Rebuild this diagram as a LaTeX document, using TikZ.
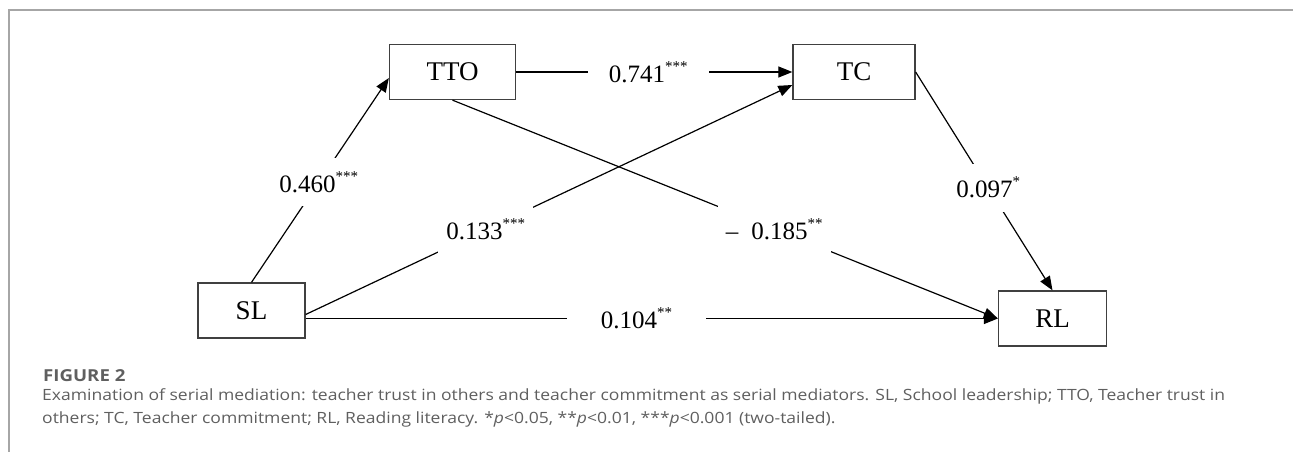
\documentclass[tikz,border=0pt]{standalone}
\usepackage{fontspec}
\setmainfont{Liberation Serif}
\newfontfamily\capfont[FakeStretch=1.13]{Open Sans}
\usetikzlibrary{arrows.meta}

\definecolor{framegray}{HTML}{A6A6A6}
\definecolor{capgray}{HTML}{5F5F5F}

% significance stars
\newcommand{\sig}[1]{\raisebox{11pt}{\fontsize{15}{15}\selectfont #1}}

\tikzset{
  construct/.style={draw=black!75, line width=1.3pt, fill=white,
    minimum height=55pt, minimum width=#1, inner sep=0pt,
    font=\fontsize{27}{32}\selectfont},
  coef/.style={fill=white, inner xsep=8pt, minimum height=48pt,
    font=\fontsize{25}{30}\selectfont},
  effect/.style={line width=1.2pt, -{Triangle[length=14pt, width=11pt]}}
}

\begin{document}
\begin{tikzpicture}[x=1pt, y=-1pt]
\useasboundingbox (0,0) rectangle (1293,452);

% Frame of the figure panel
\draw[framegray, line width=1.5pt] (1293,10) -- (9,10) -- (9,452);

% Constructs
\node[construct=107pt] (SL)  at (251.5,310.5) {SL};
\node[construct=126pt] (TTO) at (452.5,72)    {TTO};
\node[construct=122pt] (TC)  at (854,72)      {TC};
\node[construct=108pt] (RL)  at (1052.5,318.5) {RL};

% Paths with coefficients
\draw[effect] (SL.north) -- node[coef, pos=0.49] {0.460\sig{***}} ([yshift=-6pt]TTO.west);
\draw[effect] (TTO.east) -- node[coef, pos=0.478, inner xsep=21pt] {0.741\sig{***}} (TC.west);
\draw[effect] ([yshift=-4pt]SL.east) -- node[coef, pos=0.37] {0.133\sig{***}} ([yshift=-13pt]TC.west);
\draw[effect] (TTO.south) -- node[coef, pos=0.59] {\textendash\hspace{13pt}0.185\sig{**}} (RL.west);
\draw[effect] (TC.east) -- node[coef, pos=0.53] {0.097\sig{*}} (RL.north);
\draw[effect] (SL.east |- RL.west) -- node[coef, pos=0.478, inner xsep=34pt] {0.104\sig{**}} (RL.west);

% Caption
\node[anchor=base west, text=capgray, inner sep=0pt, font=\capfont\bfseries\fontsize{16.5}{19}\selectfont]
  (figno) at (43,381) {FIGURE 2};
\node[anchor=base west, text=capgray, font=\capfont\fontsize{15.5}{18}\selectfont, inner sep=0pt]
  (cap1) at (42,400) {Examination of serial mediation: teacher trust in others and teacher commitment as serial mediators. SL, School leadership; TTO, Teacher trust in};
\node[anchor=base west, text=capgray, font=\capfont\fontsize{15.5}{18}\selectfont, inner sep=0pt]
  (cap2) at (42,423) {others; TC, Teacher commitment; RL, Reading literacy. *\textit{p}{<}0.05, **\textit{p}{<}0.01, ***\textit{p}{<}0.001 (two-tailed).};
\end{tikzpicture}
\end{document}
